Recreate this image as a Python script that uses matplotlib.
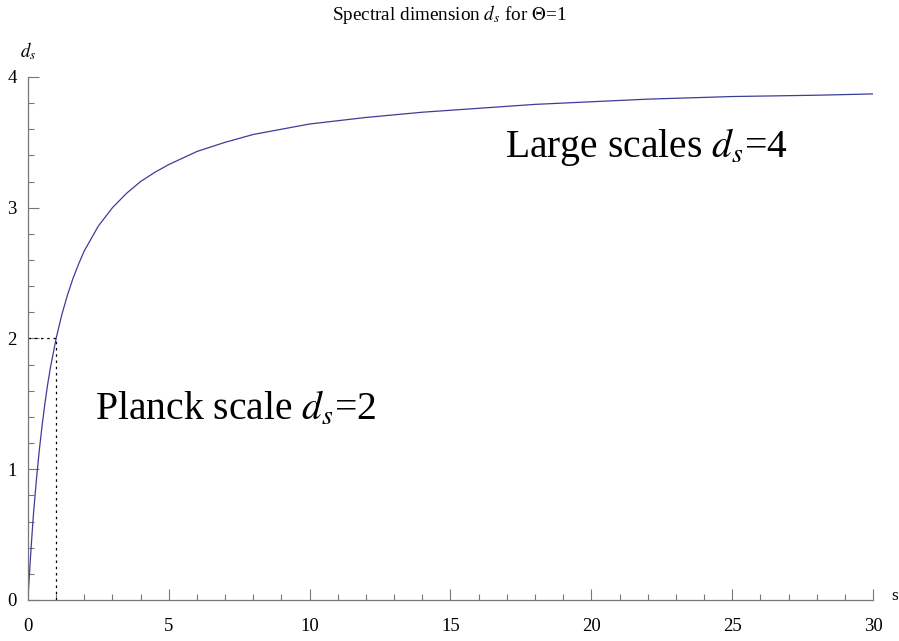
import matplotlib.pyplot as plt
from matplotlib.ticker import MultipleLocator

plt.rcParams["font.family"] = ["Liberation Serif", "DejaVu Serif"]
plt.rcParams["mathtext.fontset"] = "stix"

# values
s_vals = [0, 0.02, 0.05, 0.1, 0.15, 0.2, 0.3, 0.4, 0.5, 0.6, 0.7, 0.8, 0.9, 1,
          1.2, 1.4, 1.6, 1.8, 2, 2.5, 3, 3.5, 4, 4.5, 5, 6, 7, 8, 9, 10, 12, 14,
          16, 18, 20, 22, 25, 28, 30]
ds_vals = [0, 0.08, 0.19, 0.36, 0.52, 0.67, 0.92, 1.14, 1.33, 1.5, 1.65, 1.78,
           1.89, 2.0, 2.18, 2.33, 2.46, 2.57, 2.67, 2.86, 3.0, 3.11, 3.2, 3.27,
           3.33, 3.43, 3.5, 3.56, 3.6, 3.64, 3.69, 3.73, 3.76, 3.79, 3.81, 3.83,
           3.85, 3.86, 3.87]
planck_s = 1
planck_ds = 2

fig = plt.figure(figsize=(8.99, 6.41), dpi=100)
ax = fig.add_axes([0.0311, 0.064, 0.94, 0.816])

ax.plot(s_vals, ds_vals, color="#3d3d99", lw=0.9)
ax.plot([0, planck_s], [planck_ds, planck_ds], color="black", ls=(0, (2, 3)), lw=0.9)
ax.plot([planck_s, planck_s], [0, planck_ds], color="black", ls=(0, (2, 3)), lw=0.9)

ax.set_xlim(0, 30)
ax.set_ylim(0, 4)
for side in ["top", "right"]:
    ax.spines[side].set_visible(False)
for side in ["left", "bottom"]:
    ax.spines[side].set_color("#777777")
    ax.spines[side].set_linewidth(0.9)

ax.xaxis.set_major_locator(MultipleLocator(5))
ax.xaxis.set_minor_locator(MultipleLocator(1))
ax.yaxis.set_major_locator(MultipleLocator(1))
ax.yaxis.set_minor_locator(MultipleLocator(0.2))
ax.tick_params(which="both", direction="in", color="#777777", width=0.8,
               labelsize=13.5)
ax.tick_params(which="major", length=8)
ax.tick_params(which="minor", length=4.5)
ax.tick_params(axis="x", pad=13)
ax.tick_params(axis="y", pad=8)

ax.text(30.65, 0.03, "s", fontsize=12.5, va="center", ha="left")
ax.text(-0.3, 4.2, "$d_s$", fontsize=13.5, ha="left", va="center")
fig.text(0.5, 1 - 14 / 641, "Spectral dimension $d_s$ for $\\Theta$=1",
         fontsize=13.8, ha="center", va="center")

ax.text(2.38, 1.377, "Planck scale $d_s$=2", fontsize=28.5, va="baseline")
ax.text(16.93, 3.388, "Large scales $d_s$=4", fontsize=28.5, va="baseline")

fig.savefig("out.png", dpi=100)
